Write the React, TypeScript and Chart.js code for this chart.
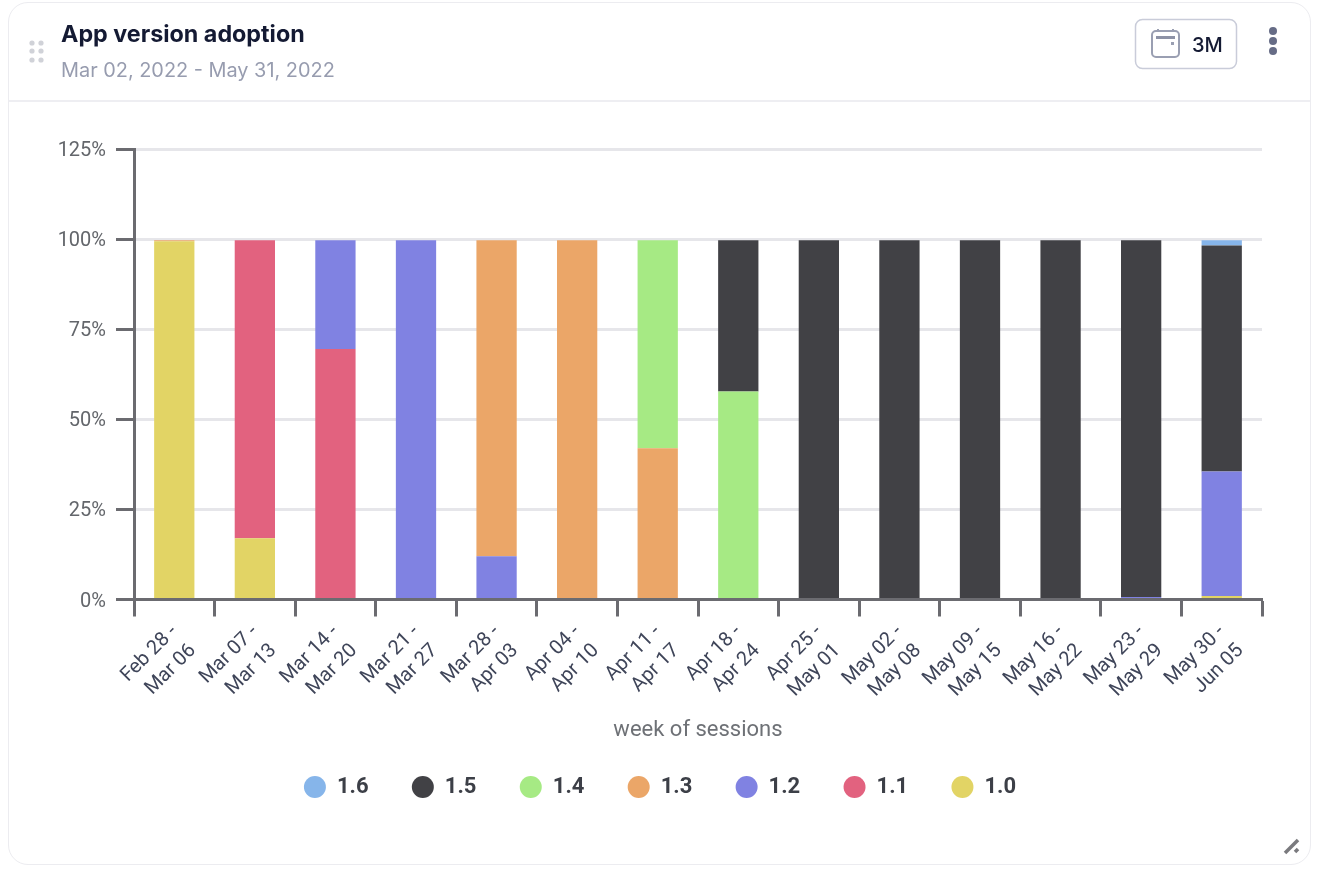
import React, { useEffect, useRef } from "react";
import { Chart, registerables } from "chart.js";

Chart.register(...registerables);

const weeks: string[][] = [
  ["Feb 28 -", "Mar 06"], ["Mar 07 -", "Mar 13"], ["Mar 14 -", "Mar 20"], ["Mar 21 -", "Mar 27"],
  ["Mar 28 -", "Apr 03"], ["Apr 04 -", "Apr 10"], ["Apr 11 -", "Apr 17"], ["Apr 18 -", "Apr 24"],
  ["Apr 25 -", "May 01"], ["May 02 -", "May 08"], ["May 09 -", "May 15"], ["May 16 -", "May 22"],
  ["May 23 -", "May 29"], ["May 30 -", "Jun 05"],
];

const v10 = [99.4, 17, 0, 0, 0, 0, 0, 0, 0, 0, 0, 0, 0, 1];
const v11 = [0, 82.7, 69.5, 0, 0, 0, 0, 0, 0, 0, 0, 0, 0, 0];
const v12 = [0, 0, 30.2, 99.7, 12, 0, 0, 0, 0, 0, 0, 0, 0.7, 34.5];
const v13 = [0.3, 0, 0, 0, 87.7, 99.7, 42, 0, 0, 0, 0, 0, 0, 0];
const v14 = [0, 0, 0, 0, 0, 0, 57.7, 57.7, 0, 0, 0, 0, 0, 0];
const v15 = [0, 0, 0, 0, 0, 0, 0, 42, 99.7, 99.7, 99.7, 99.7, 99, 62.7];
const v16 = [0, 0, 0, 0, 0, 0, 0, 0, 0, 0, 0, 0, 0, 1.5];

const seriesNames = ["1.0", "1.1", "1.2", "1.3", "1.4", "1.5", "1.6"];
const seriesColors = ["#e2d465", "#e2627f", "#8082e2", "#eba668", "#a6ea84", "#414145", "#86b5ea"];
const seriesValues = [v10, v11, v12, v13, v14, v15, v16];

const yTicks = [0, 25, 50, 75, 100, 125];

export default function App() {
  const ref = useRef<HTMLCanvasElement | null>(null);

  useEffect(() => {
    if (!ref.current) return;
    const chart = new Chart(ref.current, {
      type: "bar",
      data: {
        labels: weeks,
        datasets: seriesValues.map((data, i) => ({
          label: seriesNames[i],
          data,
          backgroundColor: seriesColors[i],
          borderWidth: 0,
          barPercentage: 0.5,
          categoryPercentage: 1,
        })),
      },
      options: {
        responsive: false,
        animation: false,
        layout: { padding: { left: 58, right: 55, top: 149, bottom: 66 } },
        plugins: {
          tooltip: { enabled: false },
          legend: {
            position: "bottom",
            reverse: true,
            labels: {
              usePointStyle: true,
              pointStyle: "circle",
              pointStyleWidth: 22,
              boxHeight: 15.5,
              padding: 43.3,
              color: "#3c3f47",
              font: { family: "Roboto", size: 22, weight: "bold" },
            },
          },
        },
        scales: {
          x: {
            stacked: true,
            grid: { drawOnChartArea: false, tickLength: 17, tickWidth: 3, tickColor: "#6b6b70" },
            border: { color: "#6b6b70", width: 3 },
            ticks: {
              color: "#3f4559",
              font: { family: "Roboto", size: 20, lineHeight: 1.32 },
              minRotation: 45,
              maxRotation: 45,
              padding: 3,
              autoSkip: false,
            },
            title: {
              display: true,
              text: "week of sessions",
              color: "#6e7176",
              font: { family: "Roboto", size: 22 },
              padding: { top: 0, bottom: -11 },
            },
            afterFit: (s: any) => { s.height = 133.2; },
          },
          y: {
            stacked: true,
            min: 0,
            max: 125,
            afterBuildTicks: (s: any) => { s.ticks = yTicks.map((value) => ({ value })); },
            grid: { color: "#e6e6ea", lineWidth: 3, tickLength: 18, tickWidth: 3, tickColor: "#6b6b70", drawTicks: true },
            border: { color: "#6b6b70", width: 3 },
            ticks: {
              color: "#63666b",
              font: { family: "Roboto", size: 20 },
              padding: 10,
              labelOffset: 2,
              callback: (v: any) => `${v}%`,
            },
            afterFit: (s: any) => { s.width = 76; },
          },
        },
      },
    });
    return () => chart.destroy();
  }, []);

  return (
    <div style={{ position: "fixed", left: 0, top: 0, width: 1317, height: 874, background: "#fff", overflow: "hidden" }}>
      <div style={{ position: "absolute", left: 8, top: 2, width: 1301, height: 861, border: "1.5px solid #ececf0", borderRadius: 20, boxSizing: "content-box" }} />
      <div style={{ position: "absolute", left: 9, top: 100, width: 1301, height: 1.5, background: "#eeeef2" }} />
      <canvas ref={ref} width={1317} height={874} style={{ position: "absolute", left: 0, top: 0 }} />
      <div style={{ position: "absolute", left: 61, top: 19, fontFamily: "Inter", fontWeight: 700, fontSize: 23.3, color: "#141a33", whiteSpace: "nowrap" }}>App version adoption</div>
      <div style={{ position: "absolute", left: 61, top: 58, fontFamily: "Inter", fontSize: 19.9, color: "#979caf", whiteSpace: "nowrap" }}>Mar 02, 2022 - May 31, 2022</div>
      <svg style={{ position: "absolute", left: 0, top: 0, pointerEvents: "none" }} width={1317} height={874}>
        {[43, 51, 60].map((y) => [32, 41].map((x) => <circle key={`${x}-${y}`} cx={x} cy={y} r={2.6} fill="#d0d2d8" />))}
        <rect x={1135.5} y={19.5} width={101} height={49} rx={7} fill="#fff" stroke="#c9ccd9" strokeWidth={1.5} />
        <rect x={1152} y={31} width={27} height={26} rx={4} fill="none" stroke="#9a9fb2" strokeWidth={2} />
        <rect x={1156} y={36} width={19} height={3} fill="#8d92a6" />
        <rect x={1171} y={42} width={3} height={3} fill="#9a9fb2" />
        <rect x={1157} y={29} width={2} height={3} fill="#9a9fb2" />
        <rect x={1172} y={29} width={2} height={3} fill="#9a9fb2" />
        <circle cx={1273} cy={31} r={4} fill="#666c86" />
        <circle cx={1273} cy={41} r={4} fill="#666c86" />
        <circle cx={1273} cy={51} r={4} fill="#666c86" />
        <line x1={1285} y1={853} x2={1298} y2={840} stroke="#7a7a7e" strokeWidth={3.5} />
        <line x1={1295} y1={852} x2={1298} y2={849} stroke="#7a7a7e" strokeWidth={3.5} />
      </svg>
      <div style={{ position: "absolute", left: 1192, top: 33, fontFamily: "Inter", fontWeight: 500, fontSize: 20, color: "#141a33" }}>3M</div>
    </div>
  );
}
